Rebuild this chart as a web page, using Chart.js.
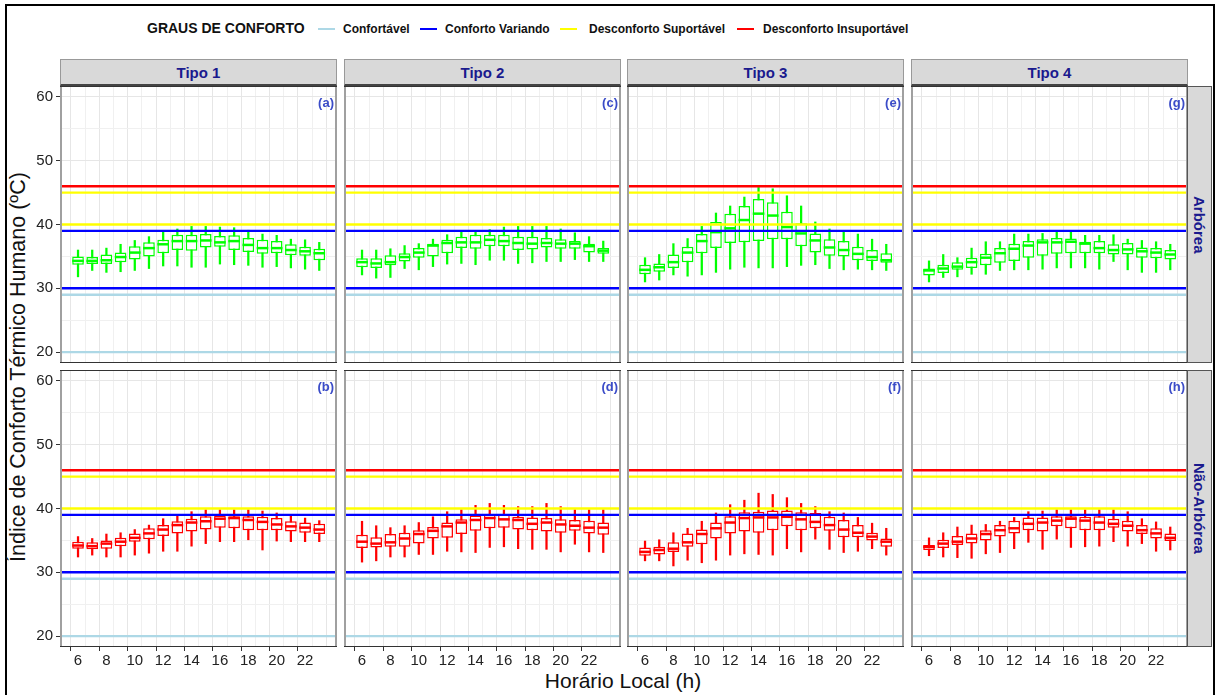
<!DOCTYPE html>
<html>
<head>
<meta charset="utf-8">
<script src="https://cdn.jsdelivr.net/npm/chart.js@4.4.0/dist/chart.umd.min.js"></script>
<style>
  body { margin: 0; background: #fff; font-family: "Liberation Sans", Arial, sans-serif; }
  #frame { position: absolute; left: 5px; top: 4px; width: 1210px; height: 700px; border: 2px solid #000; box-sizing: border-box; }
  .panel { position: absolute; }
  .strip { position: absolute; background: #d9d9d9; box-sizing: border-box; color: #1a1a8e; font-weight: bold; font-size: 15px;
           display: flex; align-items: center; justify-content: center; }
  .strip.top { border: 1px solid #999; border-bottom: 2px solid #444; }
  .strip.side { border: 1px solid #555; writing-mode: vertical-rl; }
  .leg { position: absolute; top: 21px; font-size: 12px; font-weight: bold; color: #111; line-height: 16px; white-space: nowrap; }
  .key { position: absolute; top: 28px; width: 17px; height: 2px; }
  .title { position: absolute; color: #111; font-size: 21px; white-space: nowrap; }
</style>
</head>
<body>
<div id="frame"></div>

<div class="leg" style="left:147px;font-size:14px;top:20px;">GRAUS DE CONFORTO</div>
<div class="key" style="left:318px;background:#add8e6;"></div>
<div class="leg" style="left:343px;">Confortável</div>
<div class="key" style="left:420px;background:#0000ff;"></div>
<div class="leg" style="left:445px;">Conforto Variando</div>
<div class="key" style="left:560px;background:#ffff00;"></div>
<div class="leg" style="left:589px;">Desconforto Suportável</div>
<div class="key" style="left:737px;background:#ff0000;"></div>
<div class="leg" style="left:763px;">Desconforto Insuportável</div>

<div class="title" style="left:18px;top:367px;transform:translate(-50%,-50%) rotate(-90deg);font-size:21.5px;">Índice de Conforto Térmico Humano (ºC)</div>
<div class="title" style="left:623px;top:681px;transform:translate(-50%,-50%);">Horário Local (h)</div>

<script>
// hours on the x axis and the labelled ticks
var hours = [6, 7, 8, 9, 10, 11, 12, 13, 14, 15, 16, 17, 18, 19, 20, 21, 22, 23];
var hourTicks = [6, 8, 10, 12, 14, 16, 18, 20, 22];
var yTicks = [20, 30, 40, 50, 60];

// comfort thresholds (horizontal lines)
var confortavel = [20, 29];
var confortoVariando = [30, 39];
var desconfortoSuportavel = [40, 45];
var desconfortoInsuportavel = [46];

// box stats per hour: [min, q1, median, q3, max]
var tipo1Arborea = [
  [31.8, 33.7, 34.3, 35.0, 36.0], [32.8, 33.8, 34.3, 34.9, 36.0], [32.5, 33.8, 34.4, 35.3, 36.3],
  [32.6, 34.1, 34.9, 35.6, 36.9], [32.8, 34.5, 35.6, 36.6, 37.5], [33.1, 35.0, 36.3, 37.2, 38.1],
  [33.5, 35.5, 36.9, 37.6, 38.8], [33.5, 36.0, 37.4, 38.4, 39.3], [33.3, 35.9, 37.4, 38.4, 39.7],
  [33.3, 36.4, 37.5, 38.5, 39.7], [33.8, 36.5, 37.2, 38.2, 39.6], [33.7, 36.0, 37.4, 38.3, 39.5],
  [33.6, 35.7, 36.8, 37.9, 39.1], [33.3, 35.4, 36.3, 37.6, 38.5], [33.4, 35.5, 36.3, 37.4, 38.3],
  [33.2, 35.2, 36.0, 36.9, 37.7], [33.0, 35.1, 35.8, 36.5, 37.6], [32.8, 34.4, 35.5, 36.2, 37.2]
];
var tipo1NaoArborea = [
  [32.4, 33.7, 34.2, 34.8, 35.6], [32.7, 33.6, 34.1, 34.7, 35.3], [32.4, 33.7, 34.5, 35.0, 36.0],
  [32.4, 34.1, 34.8, 35.4, 36.2], [32.7, 34.8, 35.4, 36.1, 36.7], [33.0, 35.2, 36.1, 36.9, 37.4],
  [33.3, 35.7, 36.7, 37.4, 38.4], [33.3, 36.1, 37.4, 38.0, 38.9], [34.1, 36.4, 37.8, 38.4, 39.5],
  [34.5, 36.7, 38.0, 38.8, 39.8], [34.8, 37.0, 38.4, 38.9, 39.8], [34.8, 36.9, 38.5, 38.8, 39.8],
  [35.1, 36.6, 38.2, 38.8, 39.8], [33.5, 36.6, 37.9, 38.7, 39.6], [34.9, 36.6, 37.5, 38.5, 39.3],
  [34.8, 36.4, 37.2, 38.0, 38.8], [34.8, 36.2, 37.0, 37.8, 38.5], [34.8, 36.0, 36.7, 37.6, 38.1]
];
var tipo2Arborea = [
  [32.1, 33.3, 34.1, 34.7, 36.0], [31.6, 33.2, 33.9, 34.7, 36.0], [31.7, 33.6, 34.1, 35.2, 36.2],
  [33.1, 34.2, 34.9, 35.5, 36.7], [32.9, 34.8, 35.6, 36.3, 37.0], [33.4, 35.0, 36.7, 37.0, 37.7],
  [33.8, 35.5, 37.1, 37.6, 38.4], [33.9, 36.3, 37.2, 38.1, 38.8], [33.7, 36.2, 37.2, 38.4, 38.9],
  [34.4, 36.6, 37.6, 38.4, 39.2], [34.4, 36.6, 37.4, 38.4, 39.6], [33.9, 36.0, 37.1, 38.1, 39.7],
  [34.0, 36.1, 37.0, 38.1, 39.7], [34.2, 36.4, 37.1, 37.9, 39.7], [34.2, 36.2, 37.0, 37.7, 39.3],
  [34.5, 36.2, 37.0, 37.4, 38.7], [34.2, 35.6, 36.6, 37.0, 38.1], [34.2, 35.4, 35.9, 36.3, 37.4]
];
var tipo2NaoArborea = [
  [31.6, 33.8, 34.8, 35.9, 38.0], [31.8, 33.9, 34.5, 35.5, 37.3], [32.4, 34.0, 34.7, 36.0, 37.0],
  [32.4, 34.0, 35.3, 36.2, 37.3], [32.8, 34.5, 36.0, 36.6, 37.8], [32.8, 35.3, 36.5, 37.1, 38.7],
  [33.3, 35.4, 37.2, 37.8, 39.5], [33.2, 36.0, 37.8, 38.3, 39.8], [33.1, 36.5, 38.2, 38.9, 40.5],
  [33.9, 36.9, 38.5, 39.1, 40.8], [34.0, 37.0, 38.3, 39.1, 40.5], [33.7, 36.7, 38.2, 38.7, 40.3],
  [33.6, 36.6, 37.6, 38.6, 40.3], [33.6, 36.4, 37.8, 38.5, 40.8], [33.2, 36.2, 37.5, 38.3, 40.3],
  [34.4, 36.5, 37.3, 38.2, 39.8], [33.2, 36.1, 37.0, 38.1, 39.8], [33.1, 35.9, 37.0, 37.8, 39.8]
];
var tipo3Arborea = [
  [31.0, 32.2, 32.9, 33.7, 34.8], [31.3, 32.6, 33.3, 33.9, 35.3], [32.1, 33.2, 34.1, 35.3, 37.0],
  [31.9, 34.1, 35.6, 36.5, 37.8], [32.1, 35.5, 37.4, 38.5, 39.7], [32.5, 36.3, 38.8, 40.4, 41.8],
  [33.0, 37.1, 39.4, 41.7, 42.9], [33.3, 37.2, 40.7, 42.9, 44.3], [33.2, 37.4, 41.7, 44.0, 45.8],
  [33.2, 37.7, 41.4, 43.5, 45.6], [33.4, 37.7, 39.6, 42.0, 44.5], [33.6, 36.6, 38.6, 40.2, 42.9],
  [33.7, 35.6, 37.5, 38.6, 40.4], [33.1, 35.1, 36.4, 37.7, 39.3], [32.9, 35.0, 36.0, 37.4, 38.8],
  [33.0, 34.4, 35.4, 36.5, 38.5], [32.9, 34.3, 34.9, 36.0, 37.7], [32.8, 34.0, 34.4, 35.5, 36.9]
];
var tipo3NaoArborea = [
  [31.8, 32.6, 33.2, 33.9, 34.9], [31.8, 32.8, 33.5, 34.0, 35.1], [31.0, 33.2, 33.7, 34.7, 36.2],
  [31.9, 34.0, 34.7, 36.1, 36.9], [31.5, 34.4, 36.0, 36.7, 38.0], [31.9, 35.3, 36.9, 37.8, 39.3],
  [32.7, 36.1, 37.8, 38.8, 40.6], [32.9, 36.4, 38.5, 39.4, 41.3], [32.8, 36.2, 38.6, 39.5, 42.4],
  [32.7, 36.6, 38.6, 39.7, 42.2], [33.7, 37.2, 38.7, 39.7, 41.7], [33.2, 36.6, 38.3, 39.4, 40.8],
  [35.2, 36.9, 37.9, 39.3, 40.3], [33.6, 36.5, 37.4, 38.7, 39.5], [33.1, 35.5, 36.7, 38.2, 39.3],
  [33.3, 35.5, 36.2, 37.4, 38.6], [33.7, 35.0, 35.6, 36.2, 37.7], [32.7, 34.0, 34.8, 35.3, 36.9]
];
var tipo4Arborea = [
  [31.0, 32.0, 32.8, 33.1, 34.3], [31.7, 32.4, 33.1, 33.7, 35.3], [31.8, 32.9, 33.4, 34.1, 34.8],
  [32.2, 33.2, 34.1, 34.8, 36.3], [32.2, 33.6, 34.8, 35.4, 37.3], [32.8, 34.0, 35.5, 36.3, 37.3],
  [32.9, 34.3, 36.2, 37.0, 38.5], [32.9, 34.8, 36.7, 37.4, 38.5], [33.0, 35.1, 37.2, 37.7, 38.6],
  [33.2, 35.4, 37.2, 37.9, 38.8], [33.2, 35.5, 37.3, 37.8, 38.8], [33.2, 35.5, 37.0, 37.3, 38.3],
  [33.0, 35.5, 36.3, 37.4, 38.3], [34.2, 35.3, 36.0, 36.9, 38.4], [32.9, 35.3, 36.1, 37.1, 37.7],
  [32.5, 34.8, 35.8, 36.4, 37.5], [32.5, 34.7, 35.6, 36.3, 37.3], [32.9, 34.5, 35.3, 36.0, 36.9]
];
var tipo4NaoArborea = [
  [32.6, 33.5, 34.0, 34.3, 35.4], [32.4, 33.8, 34.5, 35.1, 36.2], [32.3, 34.3, 34.8, 35.7, 37.1],
  [32.2, 34.5, 35.3, 36.1, 37.4], [32.9, 35.0, 36.0, 36.6, 37.5], [33.1, 35.6, 36.6, 37.4, 38.0],
  [33.7, 36.1, 36.9, 38.1, 38.6], [34.7, 36.6, 37.6, 38.6, 39.5], [33.6, 36.4, 37.8, 38.6, 39.6],
  [35.2, 37.2, 38.1, 38.8, 39.8], [33.9, 36.9, 38.4, 38.8, 39.8], [34.0, 36.6, 38.1, 38.7, 39.8],
  [34.1, 36.6, 37.8, 38.8, 39.8], [34.8, 37.0, 37.6, 38.4, 39.8], [34.1, 36.4, 37.3, 38.1, 39.5],
  [34.5, 36.0, 36.6, 37.4, 38.4], [33.3, 35.3, 36.1, 36.9, 37.9], [33.5, 34.9, 35.4, 36.1, 37.1]
];

var tipos = ['Tipo 1', 'Tipo 2', 'Tipo 3', 'Tipo 4'];
var grupos = ['Arbórea', 'Não-Arbórea'];

var refLines = [
  { values: confortavel, color: '#add8e6' },
  { values: confortoVariando, color: '#0000ff' },
  { values: desconfortoSuportavel, color: '#ffff00' },
  { values: desconfortoInsuportavel, color: '#ff0000' }
];

// layout of the facet grid
var colX = [60, 344, 627, 911];
var rowY = [86, 370];
var panelW = 277, panelH = 277;

Chart.defaults.font.family = '"Liberation Sans", Arial, sans-serif';

var panels = [
  { stats: tipo1Arborea, color: '#00ff00', tag: '(a)', col: 0, row: 0 },
  { stats: tipo1NaoArborea, color: '#ff0000', tag: '(b)', col: 0, row: 1 },
  { stats: tipo2Arborea, color: '#00ff00', tag: '(c)', col: 1, row: 0 },
  { stats: tipo2NaoArborea, color: '#ff0000', tag: '(d)', col: 1, row: 1 },
  { stats: tipo3Arborea, color: '#00ff00', tag: '(e)', col: 2, row: 0 },
  { stats: tipo3NaoArborea, color: '#ff0000', tag: '(f)', col: 2, row: 1 },
  { stats: tipo4Arborea, color: '#00ff00', tag: '(g)', col: 3, row: 0 },
  { stats: tipo4NaoArborea, color: '#ff0000', tag: '(h)', col: 3, row: 1 }
];

function addStrip(cls, left, top, w, h, text) {
  var d = document.createElement('div');
  d.className = 'strip ' + cls;
  d.style.left = left + 'px';
  d.style.top = top + 'px';
  d.style.width = w + 'px';
  d.style.height = h + 'px';
  d.textContent = text;
  document.body.appendChild(d);
}

function makePanel(p) {
  var padL = p.col === 0 ? 45 : 0;
  var padB = p.row === 1 ? 30 : 0;

  var div = document.createElement('div');
  div.className = 'panel';
  div.style.left = (colX[p.col] - padL) + 'px';
  div.style.top = rowY[p.row] + 'px';
  div.style.width = (panelW + padL) + 'px';
  div.style.height = (panelH + padB) + 'px';
  var canvas = document.createElement('canvas');
  div.appendChild(canvas);
  document.body.appendChild(div);

  var extras = {
    id: 'boxExtras',
    afterDatasetsDraw: function (chart) {
      var ctx = chart.ctx, a = chart.chartArea, ys = chart.scales.y;
      ctx.save();
      // medians
      var meta = chart.getDatasetMeta(0);
      ctx.strokeStyle = p.color;
      ctx.lineWidth = 2.5;
      meta.data.forEach(function (el, i) {
        var y = ys.getPixelForValue(p.stats[i][2]);
        ctx.beginPath();
        ctx.moveTo(el.x - el.width / 2, y);
        ctx.lineTo(el.x + el.width / 2, y);
        ctx.stroke();
      });
      // comfort lines
      ctx.lineWidth = 2.4;
      refLines.forEach(function (r) {
        ctx.strokeStyle = r.color;
        r.values.forEach(function (v) {
          var y = ys.getPixelForValue(v);
          ctx.beginPath();
          ctx.moveTo(a.left, y);
          ctx.lineTo(a.right, y);
          ctx.stroke();
        });
      });
      // panel tag
      ctx.fillStyle = '#3b4cc8';
      ctx.font = 'bold 13px "Liberation Sans", Arial, sans-serif';
      ctx.textAlign = 'right';
      ctx.textBaseline = 'middle';
      ctx.fillText(p.tag, a.right - 3, a.top + 17);
      // panel border
      ctx.strokeStyle = '#a0a0a0';
      ctx.lineWidth = 2;
      ctx.beginPath();
      ctx.moveTo(a.left + 1, a.top); ctx.lineTo(a.left + 1, a.bottom);
      ctx.moveTo(a.right - 1, a.top); ctx.lineTo(a.right - 1, a.bottom);
      ctx.stroke();
      ctx.strokeStyle = '#333';
      ctx.lineWidth = 1;
      ctx.beginPath();
      ctx.moveTo(a.left, a.top + 0.5); ctx.lineTo(a.right, a.top + 0.5);
      ctx.moveTo(a.left, a.bottom - 0.5); ctx.lineTo(a.right, a.bottom - 0.5);
      ctx.stroke();
      ctx.restore();
    }
  };

  new Chart(canvas, {
    type: 'bar',
    data: {
      datasets: [
        {
          label: 'caixa',
          data: hours.map(function (h, i) { return { x: h, y: [p.stats[i][1], p.stats[i][3]] }; }),
          backgroundColor: '#ffffff',
          borderColor: p.color,
          borderWidth: 1.5,
          borderSkipped: false,
          grouped: false,
          categoryPercentage: 0.82,
          barPercentage: 1,
          order: 0
        },
        {
          label: 'bigode',
          data: hours.map(function (h, i) { return { x: h, y: [p.stats[i][0], p.stats[i][4]] }; }),
          backgroundColor: p.color,
          barThickness: 1.6,
          grouped: false,
          order: 1
        }
      ]
    },
    options: {
      animation: false,
      responsive: true,
      maintainAspectRatio: false,
      layout: { padding: 0 },
      plugins: { legend: { display: false }, tooltip: { enabled: false } },
      scales: {
        x: {
          type: 'linear',
          min: 4.73,
          max: 24.25,
          offset: false,
          afterFit: function (s) { s.height = padB; s.paddingLeft = 0; s.paddingRight = 0; },
          border: { display: false },
          grid: {
            color: function (c) { return c.tick && c.tick.value % 2 === 0 ? '#e6e6e6' : '#f0f0f0'; },
            lineWidth: 1,
            drawTicks: padB > 0,
            tickLength: 4,
            tickColor: function (c) { return c.tick && hourTicks.indexOf(c.tick.value) >= 0 ? '#333' : 'rgba(0,0,0,0)'; }
          },
          ticks: {
            display: padB > 0,
            stepSize: 1,
            includeBounds: false,
            autoSkip: false,
            maxRotation: 0,
            color: '#222',
            font: { size: 15 },
            padding: 1,
            callback: function (v) { return hourTicks.indexOf(v) >= 0 ? String(v) : ''; }
          }
        },
        y: {
          min: 18.3,
          max: 61.7,
          afterFit: function (s) { s.width = padL; s.paddingTop = 0; s.paddingBottom = 0; },
          border: { display: false },
          grid: {
            color: function (c) { return c.tick && c.tick.value % 10 === 0 ? '#e6e6e6' : '#f0f0f0'; },
            lineWidth: 1,
            drawTicks: padL > 0,
            tickLength: 4,
            tickColor: function (c) { return c.tick && yTicks.indexOf(c.tick.value) >= 0 ? '#333' : 'rgba(0,0,0,0)'; }
          },
          ticks: {
            display: padL > 0,
            stepSize: 5,
            includeBounds: false,
            color: '#222',
            font: { size: 15 },
            padding: 3,
            callback: function (v) { return yTicks.indexOf(v) >= 0 ? String(v) : ''; }
          }
        }
      }
    },
    plugins: [extras]
  });
}

panels.forEach(makePanel);

tipos.forEach(function (t, i) { addStrip('top', colX[i], 59, panelW, 27, t); });
grupos.forEach(function (g, i) { addStrip('side', 1187, rowY[i], 25, panelH, g); });
</script>
</body>
</html>
